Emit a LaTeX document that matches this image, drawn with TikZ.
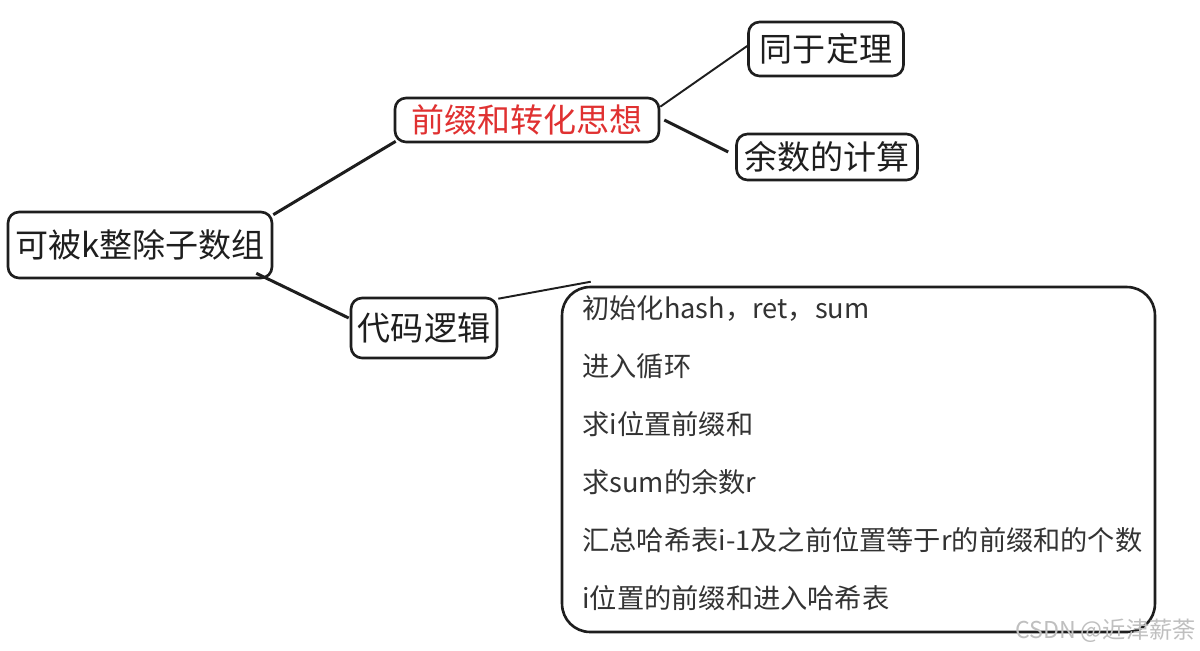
\documentclass[tikz,border=0pt]{standalone}
\usepackage{fontspec}
\setmainfont{Noto Sans CJK SC}
\usepackage{xcolor}
\usetikzlibrary{positioning, calc}

\definecolor{inkred}{RGB}{224,49,49}
\definecolor{ink}{RGB}{30,30,30}

\begin{document}
\begin{tikzpicture}[x=0.02cm, y=-0.02cm,
    topic/.style={draw=ink, line width=1.5pt, rounded corners=0.22cm, inner sep=0pt,
      text=ink, font=\fontsize{18.8}{22}\selectfont},
    link/.style={ink, line width=1.7pt},
    thinlink/.style={ink, line width=1.1pt},
    codebox/.style={draw=ink, line width=1.5pt, rounded corners=0.56cm,
      minimum width=11.86cm, minimum height=6.9cm},
    codeline/.style={anchor=west, inner sep=0pt, text=black!80,
      font=\fontsize{15.5}{18}\selectfont}]

  \useasboundingbox[fill=white] (0,0) rectangle (1200,650);

  % Topics
  \node[topic, minimum width=5.28cm, minimum height=1.32cm] (root) at (140,245) {可被k整除子数组};
  \node[topic, minimum width=5.28cm, minimum height=0.88cm, text=inkred] (prefix) at (527,120) {前缀和转化思想};
  \node[topic, minimum width=3.1cm, minimum height=1.08cm] (same) at (826,49) {同于定理};
  \node[topic, minimum width=3.62cm, minimum height=0.92cm] (remain) at (827,157) {余数的计算};
  \node[topic, minimum width=2.92cm, minimum height=1.2cm] (code) at (424,328) {代码逻辑};

  % Steps
  \node[codebox] (steps) at (858.5,459.5) {};
  \foreach \t [count=\i] in {{初始化hash，ret，sum}, {进入循环}, {求i位置前缀和},
      {求sum的余数r}, {汇总哈希表i-1及之前位置等于r的前缀和的个数}, {i位置的前缀和进入哈希表}}
    \node[codeline] (line\i) at (582,{250+58*\i}) {\t};

  % Links
  \draw[link] ($(root.north east)+(0,4)$) -- ($(prefix.south west)+(2,-2)$);
  \draw[link] ($(root.south east)+(-17,-6)$) -- ($(code.west)+(-1,-10)$);
  \draw[thinlink] ($(prefix.north east)+(0,10)$) -- ($(same.west)+(0,-3)$);
  \draw[link] ($(prefix.east)+(4,0)$) -- ($(remain.west)+(-7,-5)$);
  \draw[thinlink] ($(code.north east)+(0,2)$) -- ($(steps.north west)+(30,-4)$);

  \node[anchor=east, inner sep=0pt, text=black!25, font=\fontsize{13.2}{15}\selectfont]
    (mark) at (1196,631) {CSDN @近津薪荼};
\end{tikzpicture}
\end{document}
